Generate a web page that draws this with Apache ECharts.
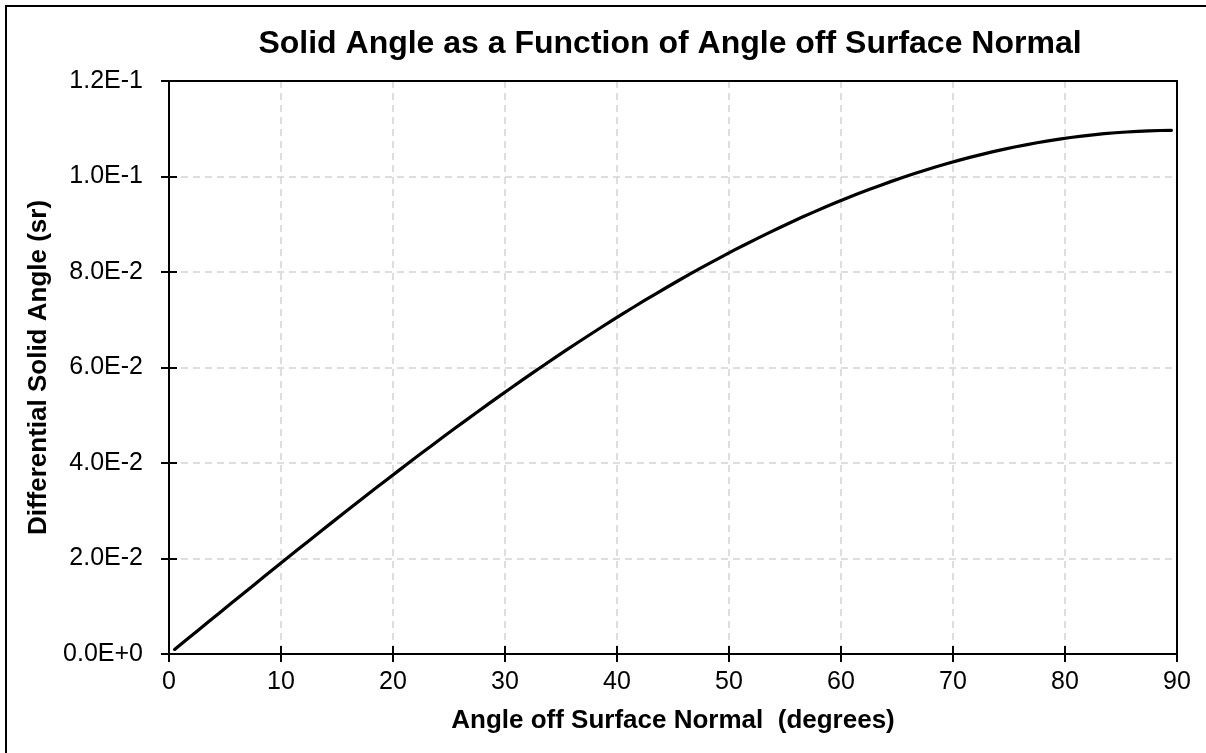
<!DOCTYPE html>
<html>
<head>
<meta charset="utf-8">
<script src="https://cdn.jsdelivr.net/npm/echarts@6/dist/echarts.min.js"></script>
<style>
  html, body { margin: 0; padding: 0; background: #fff; }
  #chart { width: 1206px; height: 753px; }
</style>
</head>
<body>
<div id="chart"></div>
<script>
// Angle off surface normal (degrees), bin centres
const angles = [
  0.5, 1.5, 2.5, 3.5, 4.5, 5.5, 6.5, 7.5, 8.5, 9.5,
  10.5, 11.5, 12.5, 13.5, 14.5, 15.5, 16.5, 17.5, 18.5, 19.5,
  20.5, 21.5, 22.5, 23.5, 24.5, 25.5, 26.5, 27.5, 28.5, 29.5,
  30.5, 31.5, 32.5, 33.5, 34.5, 35.5, 36.5, 37.5, 38.5, 39.5,
  40.5, 41.5, 42.5, 43.5, 44.5, 45.5, 46.5, 47.5, 48.5, 49.5,
  50.5, 51.5, 52.5, 53.5, 54.5, 55.5, 56.5, 57.5, 58.5, 59.5,
  60.5, 61.5, 62.5, 63.5, 64.5, 65.5, 66.5, 67.5, 68.5, 69.5,
  70.5, 71.5, 72.5, 73.5, 74.5, 75.5, 76.5, 77.5, 78.5, 79.5,
  80.5, 81.5, 82.5, 83.5, 84.5, 85.5, 86.5, 87.5, 88.5, 89.5
];
// Differential solid angle (sr)
const solidAngle = [
  0.00096, 0.00287, 0.00478, 0.00670, 0.00860, 0.01051, 0.01241, 0.01431, 0.01621, 0.01810,
  0.01998, 0.02186, 0.02374, 0.02560, 0.02746, 0.02931, 0.03115, 0.03298, 0.03480, 0.03661,
  0.03840, 0.04019, 0.04197, 0.04373, 0.04548, 0.04721, 0.04893, 0.05064, 0.05233, 0.05400,
  0.05566, 0.05730, 0.05892, 0.06053, 0.06211, 0.06368, 0.06523, 0.06676, 0.06827, 0.06975,
  0.07122, 0.07267, 0.07409, 0.07549, 0.07686, 0.07822, 0.07955, 0.08085, 0.08213, 0.08339,
  0.08462, 0.08582, 0.08700, 0.08815, 0.08928, 0.09038, 0.09145, 0.09249, 0.09350, 0.09449,
  0.09545, 0.09637, 0.09727, 0.09814, 0.09898, 0.09979, 0.10057, 0.10132, 0.10203, 0.10272,
  0.10337, 0.10400, 0.10459, 0.10515, 0.10567, 0.10617, 0.10663, 0.10706, 0.10746, 0.10783,
  0.10816, 0.10846, 0.10872, 0.10896, 0.10916, 0.10932, 0.10946, 0.10956, 0.10963, 0.10966
];
const titleText = 'Solid Angle as a Function of Angle off Surface Normal';
const xName = 'Angle off Surface Normal  (degrees)';
const yName = 'Differential Solid Angle (sr)';
const xMin = 0, xMax = 90, xStep = 10;
const yMin = 0, yMax = 0.12, yStep = 0.02;

const FONT = "'Liberation Sans', Arial, sans-serif";
const chart = echarts.init(document.getElementById('chart'), null, { renderer: 'canvas' });

const gridDash = { type: [7, 5], color: '#d4d4d4', width: 1.5 };
const blackLine = { color: '#000', width: 2 };

const xBase = { type: 'value', min: xMin, max: xMax, interval: xStep, gridIndex: 0 };
const yBase = { type: 'value', min: yMin, max: yMax, interval: yStep, gridIndex: 0 };

const option = {
  backgroundColor: '#fff',
  animation: false,
  title: {
    text: titleText,
    left: 670,
    top: 28,
    padding: 0,
    textAlign: 'center',
    textStyle: { fontFamily: FONT, fontSize: 32, fontWeight: 'bold', color: '#000' }
  },
  grid: { left: 169, right: 29, top: 81, bottom: 99, containLabel: false },
  xAxis: [
    Object.assign({}, xBase, {
      position: 'bottom',
      axisLine: { show: true, onZero: false, lineStyle: blackLine },
      axisTick: { show: true, inside: false, length: 8, lineStyle: blackLine },
      axisLabel: { show: true, margin: 16, fontFamily: FONT, fontSize: 25, color: '#000' },
      splitLine: { show: true, lineStyle: gridDash },
      name: xName,
      nameLocation: 'middle',
      nameGap: 54,
      nameTextStyle: { fontFamily: FONT, fontSize: 26, fontWeight: 'bold', color: '#000' }
    }),
    Object.assign({}, xBase, {
      position: 'bottom',
      axisLine: { show: false, onZero: false },
      axisTick: { show: true, inside: true, length: 8, lineStyle: blackLine },
      axisLabel: { show: false },
      splitLine: { show: false }
    }),
    Object.assign({}, xBase, {
      position: 'top',
      axisLine: { show: true, onZero: false, lineStyle: blackLine },
      axisTick: { show: false },
      axisLabel: { show: false },
      splitLine: { show: false }
    })
  ],
  yAxis: [
    Object.assign({}, yBase, {
      position: 'left',
      axisLine: { show: true, onZero: false, lineStyle: blackLine },
      axisTick: { show: true, inside: false, length: 8, lineStyle: blackLine },
      axisLabel: {
        show: true, margin: 26, fontFamily: FONT, fontSize: 25, color: '#000',
        formatter: v => Number(v).toExponential(1).toUpperCase()
      },
      splitLine: { show: true, lineStyle: gridDash },
      name: yName,
      nameLocation: 'middle',
      nameGap: 103,
      nameRotate: 90,
      nameTextStyle: { fontFamily: FONT, fontSize: 26, fontWeight: 'bold', color: '#000' }
    }),
    Object.assign({}, yBase, {
      position: 'left',
      axisLine: { show: false, onZero: false },
      axisTick: { show: true, inside: true, length: 8, lineStyle: blackLine },
      axisLabel: { show: false },
      splitLine: { show: false }
    }),
    Object.assign({}, yBase, {
      position: 'right',
      axisLine: { show: true, onZero: false, lineStyle: blackLine },
      axisTick: { show: false },
      axisLabel: { show: false },
      splitLine: { show: false }
    })
  ],
  graphic: [{
    type: 'rect',
    shape: { x: 6, y: 6, width: 1400, height: 1000 },
    style: { fill: null, stroke: '#000', lineWidth: 2 },
    silent: true,
    z: 100
  }],
  series: [{
    type: 'line',
    xAxisIndex: 0,
    yAxisIndex: 0,
    data: angles.map((a, i) => [a, solidAngle[i]]),
    showSymbol: false,
    symbol: 'none',
    smooth: false,
    lineStyle: { color: '#000', width: 3.2, cap: 'round', join: 'round' },
    z: 10
  }]
};
chart.setOption(option);
</script>
</body>
</html>
